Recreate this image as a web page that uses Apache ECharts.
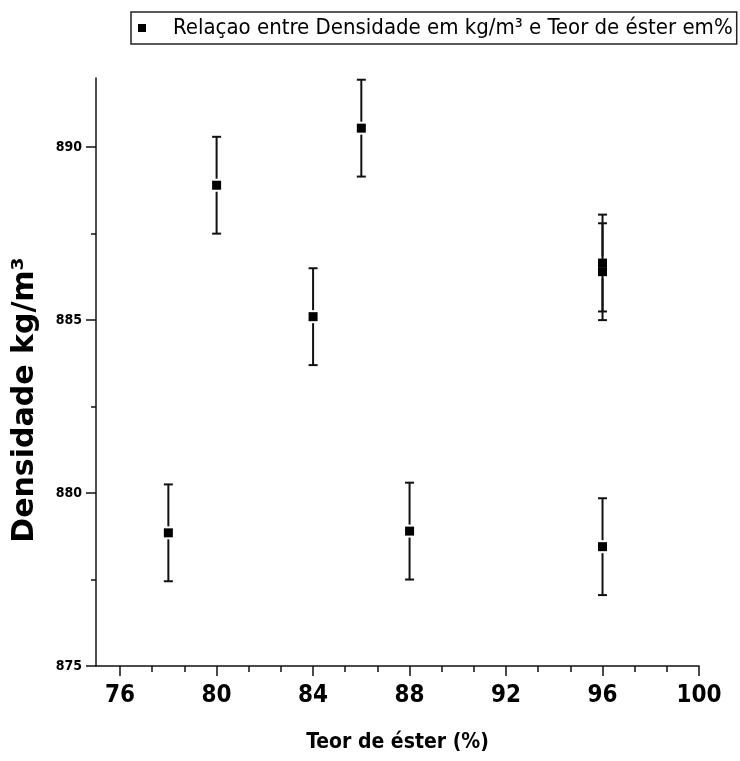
<!DOCTYPE html>
<html>
<head>
<meta charset="utf-8">
<script src="https://cdn.jsdelivr.net/npm/echarts@6/dist/echarts.min.js"></script>
<style>
  html, body { margin: 0; padding: 0; background: #fff; }
  #chart { width: 740px; height: 761px; }
</style>
</head>
<body>
<div id="chart"></div>
<script>
// Teor de éster (%) e densidade (kg/m³), barras de erro simétricas
const teorEster = [78, 80, 84, 86, 88, 96, 96, 96]
const densidade = [878.85, 888.9, 885.1, 890.55, 878.9, 878.45, 886.65, 886.4]
const erro = [1.4, 1.4, 1.4, 1.4, 1.4, 1.4, 1.4, 1.4]

const xTicks = [76, 80, 84, 88, 92, 96, 100]
const xMinorTicks = [77.33, 78.67, 81.33, 82.67, 85.33, 86.67, 89.33, 90.67, 93.33, 94.67, 97.33, 98.67]
const yTicks = [875, 880, 885, 890]
const yMinorTicks = [877.5, 882.5, 887.5]

const serieNome = 'Relaçao entre Densidade em kg/m³ e Teor de éster em%'
const narrow = "'Liberation Sans Narrow', 'DejaVu Sans Condensed', 'Liberation Sans', sans-serif"
const ink = '#111'

const pontos = teorEster.map((x, i) => [x, densidade[i], erro[i]])

const chart = echarts.init(document.getElementById('chart'), null, { renderer: 'canvas' })

chart.setOption({
  animation: false,
  backgroundColor: '#fff',
  legend: {
    data: [serieNome],
    left: 131,
    top: 12,
    padding: [5, 4, 5, 7],
    borderColor: '#222',
    borderWidth: 1.5,
    itemWidth: 8,
    itemHeight: 8,
    icon: 'rect',
    textStyle: { color: '#000', fontSize: 22, fontFamily: narrow, padding: [0, 0, 0, 22] },
  },
  grid: { left: 96, right: 41, top: 78, bottom: 95, containLabel: false, outerBoundsMode: 'none' },
  xAxis: [
    {
      type: 'value',
      min: 75,
      max: 100,
      position: 'bottom',
      name: 'Teor de éster (%)',
      nameLocation: 'middle',
      nameGap: 66,
      nameTextStyle: { color: '#000', fontSize: 21, fontWeight: 'bold', fontFamily: narrow },
      axisLine: { onZero: false, lineStyle: { color: ink, width: 1.5 } },
      axisTick: { customValues: xTicks, length: 10, lineStyle: { color: ink, width: 1.5 } },
      axisLabel: { customValues: xTicks, margin: 18, color: '#000', fontSize: 24, fontWeight: 'bold', fontFamily: narrow },
      splitLine: { show: false },
    },
    {
      type: 'value',
      min: 75,
      max: 100,
      position: 'bottom',
      axisLine: { show: false, onZero: false },
      axisTick: { customValues: xMinorTicks, length: 6, lineStyle: { color: ink, width: 1.5 } },
      axisLabel: { show: false },
      splitLine: { show: false },
    },
  ],
  yAxis: [
    {
      type: 'value',
      min: 875,
      max: 892,
      position: 'left',
      name: 'Densidade kg/m³',
      nameLocation: 'middle',
      nameGap: 56,
      nameRotate: 90,
      nameTextStyle: { color: '#000', fontSize: 30, fontWeight: 'bold', fontFamily: "'DejaVu Sans', sans-serif", padding: [0, 56, 0, 0] },
      axisLine: { onZero: false, lineStyle: { color: ink, width: 1.5 } },
      axisTick: { customValues: yTicks, length: 10, lineStyle: { color: ink, width: 1.5 } },
      axisLabel: { customValues: yTicks, margin: 14, color: '#000', fontSize: 14, fontWeight: 'bold', fontFamily: narrow },
      splitLine: { show: false },
    },
    {
      type: 'value',
      min: 875,
      max: 892,
      position: 'left',
      axisLine: { show: false, onZero: false },
      axisTick: { customValues: yMinorTicks, length: 5, lineStyle: { color: ink, width: 1.5 } },
      axisLabel: { show: false },
      splitLine: { show: false },
    },
  ],
  series: [
    {
      // barras de erro
      type: 'custom',
      xAxisIndex: 0,
      yAxisIndex: 0,
      silent: true,
      z: 2,
      data: pontos,
      renderItem(params, api) {
        const x = api.value(0), y = api.value(1), e = api.value(2)
        const c = api.coord([x, y])
        const top = api.coord([x, y + e])
        const bot = api.coord([x, y - e])
        const gap = 6.5, cap = 4.5
        const st = { stroke: ink, lineWidth: 2 }
        return {
          type: 'group',
          children: [
            { type: 'line', shape: { x1: c[0], y1: top[1], x2: c[0], y2: c[1] - gap }, style: st },
            { type: 'line', shape: { x1: c[0], y1: c[1] + gap, x2: c[0], y2: bot[1] }, style: st },
            { type: 'line', shape: { x1: c[0] - cap, y1: top[1], x2: c[0] + cap, y2: top[1] }, style: st },
            { type: 'line', shape: { x1: c[0] - cap, y1: bot[1], x2: c[0] + cap, y2: bot[1] }, style: st },
          ],
        }
      },
    },
    {
      name: serieNome,
      type: 'scatter',
      xAxisIndex: 0,
      yAxisIndex: 0,
      z: 3,
      symbol: 'rect',
      symbolSize: 9,
      itemStyle: { color: '#000', opacity: 1 },
      data: pontos.map(p => [p[0], p[1]]),
    },
  ],
})
</script>
</body>
</html>
